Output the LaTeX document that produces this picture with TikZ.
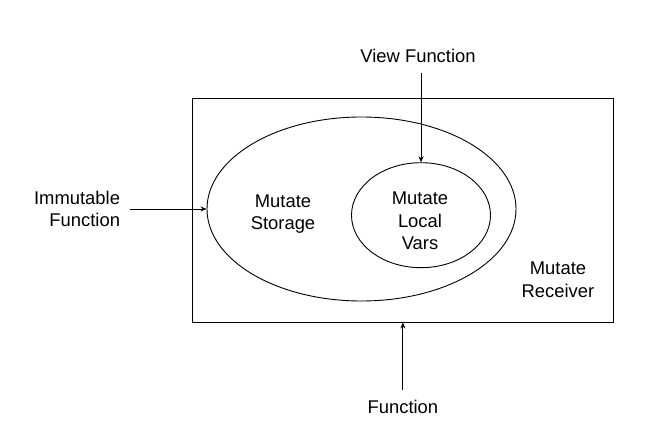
\documentclass[tikz,border=0pt]{standalone}
\usepackage{fontspec}
\setmainfont{Liberation Sans}
\usetikzlibrary{shapes.geometric,arrows.meta}
\begin{document}
\begin{tikzpicture}[x=1bp,y=-1bp,
  lbl/.style={font=\fontsize{18.4bp}{22.5bp}\selectfont, align=center, inner sep=0pt},
  shp/.style={draw=black, line width=0.9bp, inner sep=0pt},
  arr/.style={draw=black, line width=0.9bp, -{Stealth[length=6bp,width=5bp]}}]
\useasboundingbox (0,0) rectangle (664,447);
\fill[white] (0,0) rectangle (664,447);
% shapes
\node[shp, rectangle, minimum width=420.3bp, minimum height=224bp] (rect) at (402.9,210) {};
\node[shp, ellipse, minimum width=309bp, minimum height=184bp] (outer) at (361.5,209) {};
\node[shp, ellipse, minimum width=139bp, minimum height=105bp] (inner) at (421,215.2) {};
% labels
\node[lbl] (storage) at (283,214) {Mutate\\Storage};
\node[lbl] (local) at (420,221) {Mutate\\Local\\Vars};
\node[lbl] (receiver) at (558,280) {Mutate\\Receiver};
\node[lbl, outer ysep=10bp] (view) at (418,56) {View Function};
\node[lbl, align=right, anchor=east, outer xsep=10bp] (imm) at (130,209) {Immutable\\Function};
\node[lbl, outer ysep=10bp] (func) at (402.9,407) {Function};
% connectors
\draw[arr] (imm.east) -- (outer.west);
\draw[arr] (view.south -| inner.north) -- (inner.north);
\draw[arr] (func.north -| rect.south) -- (rect.south);
\end{tikzpicture}
\end{document}
